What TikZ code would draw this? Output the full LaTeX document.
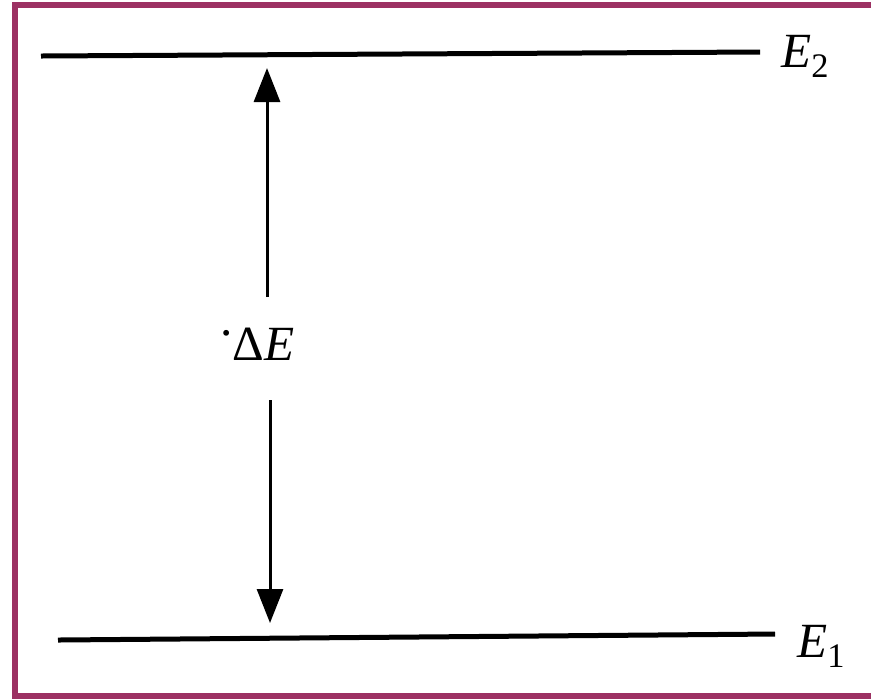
\documentclass[tikz,border=0pt]{standalone}
\usepackage{fontspec}
\setmainfont{Liberation Serif}
\usetikzlibrary{arrows.meta,positioning}
\definecolor{framered}{RGB}{156,49,99}

\begin{document}
\begin{tikzpicture}[x=0.02cm,y=-0.02cm, every node/.style={font=\fontsize{28}{32}\selectfont, inner sep=0pt},
    level/.style={line width=0.1cm},
    gap/.style={line width=0.06cm, -{Triangle[length=0.68cm,width=0.52cm]}}]
    \useasboundingbox (0,0) rectangle (871,698);
    \draw[framered, line width=0.12cm] (15,5) rectangle (900,696);
    % energy levels
    \coordinate (e2a) at (41,56);
    \coordinate (e2b) at (760,52);
    \coordinate (e1a) at (58,640);
    \coordinate (e1b) at (775,634);
    \draw[level] (e2a) -- (e2b);
    \draw[level] (e1a) -- (e1b);
    \node[anchor=base west] (e2lab) at (781,67) {\textit{E}\textsubscript{\raisebox{-0.12em}{2}}};
    \node[anchor=base west] (e1lab) at (797,657) {\textit{E}\textsubscript{\raisebox{-0.12em}{1}}};
    % energy gap
    \node[anchor=base west] (gaplab) at (220,360) {\raisebox{0.5em}{.}Δ\textit{E}};
    \coordinate (upfoot) at (267,297);
    \coordinate (up) at (267,68);
    \coordinate (downfoot) at (270,400);
    \coordinate (down) at (270,623);
    \draw[gap] (upfoot) -- (up);
    \draw[gap] (downfoot) -- (down);
\end{tikzpicture}
\end{document}
